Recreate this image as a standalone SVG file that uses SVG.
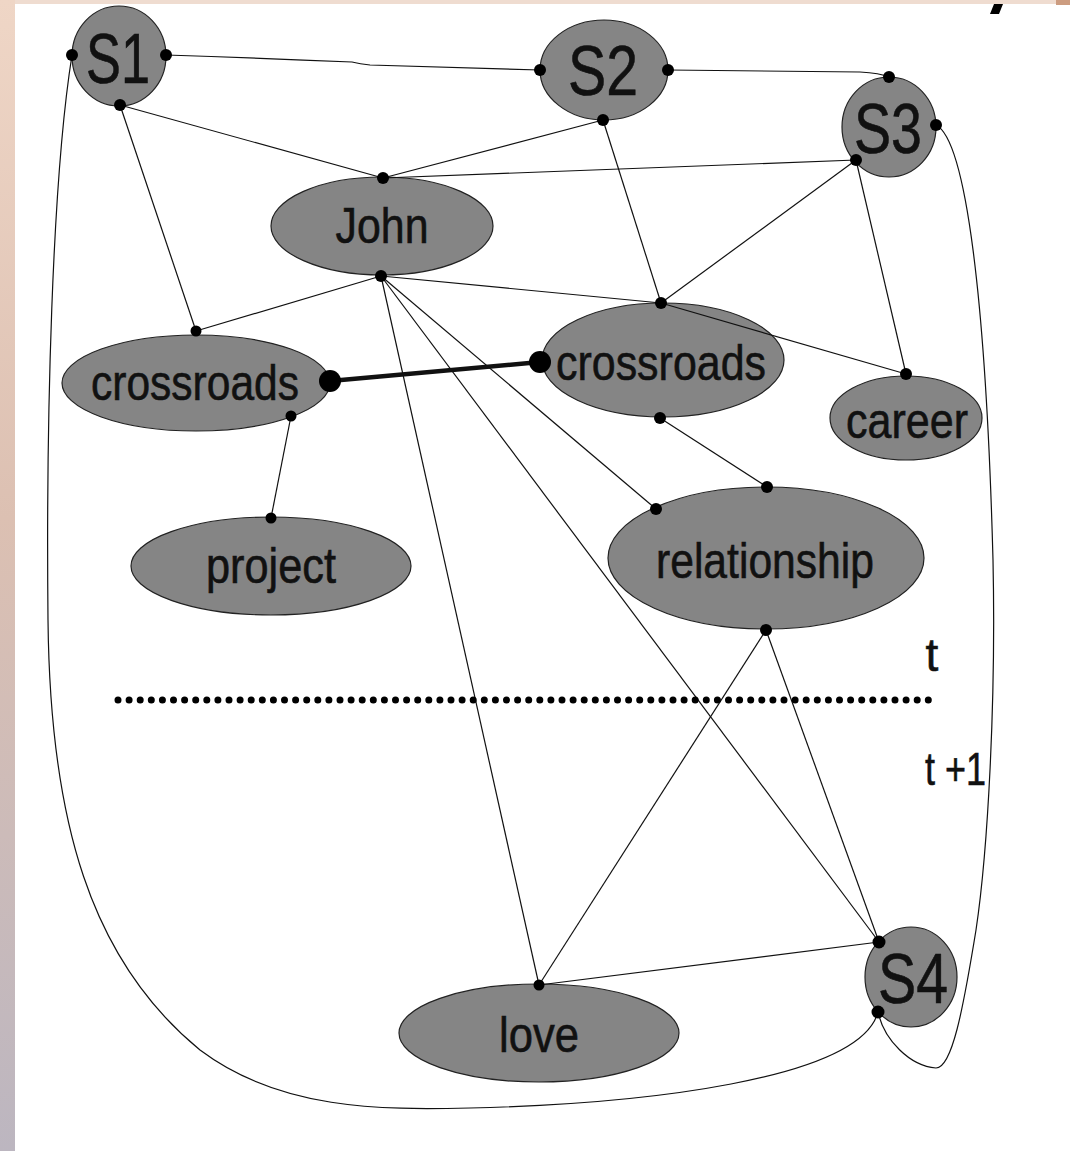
<svg xmlns="http://www.w3.org/2000/svg" width="1070" height="1151" viewBox="0 0 1070 1151">
<defs>
<linearGradient id="lg" x1="0" y1="0" x2="0" y2="1">
<stop offset="0" stop-color="#efd6c6"/>
<stop offset="0.45" stop-color="#dcc0b2"/>
<stop offset="1" stop-color="#bcb6c0"/>
</linearGradient>
<style>
.node{fill:#858585;stroke:#222;stroke-width:1.2}
.lbl{font-family:"Liberation Sans",Arial,sans-serif;fill:#111;stroke:#111;stroke-width:0.6;text-anchor:middle}
.big{font-size:70px}
.word{font-size:50px}
.edge{fill:none;stroke:#111;stroke-width:1.2}
.port{fill:#000}
</style>
</defs>
<rect width="1070" height="1151" fill="#fff"/>
<rect x="0" y="0" width="15" height="1151" fill="url(#lg)"/>
<rect x="15" y="0" width="1042" height="4" fill="#efdcd0"/>
<rect x="1056" y="0" width="14" height="5" fill="#cc9c80"/>
<polygon points="994,4 1003,4 999,14 990,14" fill="#000"/>

<g id="nodes">
<g id="S1"><ellipse class="node" cx="119" cy="56" rx="47" ry="50"/><text class="lbl big" x="118" y="83" textLength="64" lengthAdjust="spacingAndGlyphs">S1</text></g>
<g id="S2"><ellipse class="node" cx="604" cy="70" rx="64" ry="50"/><text class="lbl big" x="603" y="95" textLength="70" lengthAdjust="spacingAndGlyphs">S2</text></g>
<g id="S3"><ellipse class="node" cx="889" cy="127" rx="47" ry="50"/><text class="lbl big" x="888" y="153" textLength="68" lengthAdjust="spacingAndGlyphs">S3</text></g>
<g id="S4"><ellipse class="node" cx="911" cy="977" rx="46" ry="50"/><text class="lbl big" x="913" y="1003" textLength="70" lengthAdjust="spacingAndGlyphs">S4</text></g>
<g id="John"><ellipse class="node" cx="382" cy="226" rx="111" ry="49"/><text class="lbl word" x="382" y="243" textLength="93" lengthAdjust="spacingAndGlyphs">John</text></g>
<g id="crossroads1"><ellipse class="node" cx="196" cy="383" rx="134" ry="48"/><text class="lbl word" x="195" y="400" textLength="208" lengthAdjust="spacingAndGlyphs">crossroads</text></g>
<g id="crossroads2"><ellipse class="node" cx="663" cy="360" rx="121" ry="57"/><text class="lbl word" x="661" y="380" textLength="210" lengthAdjust="spacingAndGlyphs">crossroads</text></g>
<g id="career"><ellipse class="node" cx="906" cy="418" rx="76" ry="42"/><text class="lbl word" x="907" y="438" textLength="122" lengthAdjust="spacingAndGlyphs">career</text></g>
<g id="project"><ellipse class="node" cx="271" cy="566" rx="140" ry="49"/><text class="lbl word" x="271" y="583" textLength="130" lengthAdjust="spacingAndGlyphs">project</text></g>
<g id="relationship"><ellipse class="node" cx="766" cy="558" rx="158" ry="71"/><text class="lbl word" x="765" y="578" textLength="218" lengthAdjust="spacingAndGlyphs">relationship</text></g>
<g id="love"><ellipse class="node" cx="539" cy="1033" rx="140" ry="49"/><text class="lbl word" x="539" y="1052" textLength="80" lengthAdjust="spacingAndGlyphs">love</text></g>
</g>

<g id="connectors">
<path class="edge" d="M166,55 Q260,58 352,62 Q360,64 370,65 L540,70"/>
<path class="edge" d="M668,70 L860,72 Q880,73 889,77"/>
<path class="edge" d="M120,105 L383,178"/>
<path class="edge" d="M603,120 L383,178"/>
<path class="edge" d="M856,160 L383,178"/>
<path class="edge" d="M120,105 L196,331"/>
<path class="edge" d="M603,120 L661,303"/>
<path class="edge" d="M856,160 L661,303"/>
<path class="edge" d="M856,160 L906,374"/>
<path class="edge" d="M381,276 L196,331"/>
<path class="edge" d="M381,276 L661,303"/>
<path class="edge" d="M661,303 L906,374"/>
<path class="edge" d="M381,276 L656,509"/>
<path class="edge" d="M381,276 L539,985"/>
<path class="edge" d="M381,276 L879,942"/>
<path class="edge" d="M660,418 L767,487"/>
<path class="edge" d="M291,416 L271,518"/>
<path class="edge" d="M330,381 L540,362" style="stroke-width:4.5"/>
<path class="edge" d="M766,630 L539,985"/>
<path class="edge" d="M766,630 L879,942"/>
<path class="edge" d="M539,985 L879,942"/>
<path class="edge" d="M72,55 C52,180 46,420 48,620 C50,820 90,960 200,1050 C280,1110 380,1110 470,1108 C640,1104 860,1080 878,1012"/>
<path class="edge" d="M936,125 C966,140 986,300 993,560 C996,700 988,850 976,930 C963,1010 952,1068 936,1068 C910,1066 884,1040 878,1012"/>
<line x1="118" y1="700" x2="938" y2="700" stroke="#000" stroke-width="7" stroke-linecap="round" stroke-dasharray="0 11.1"/>
</g>

<g id="ports">
<circle class="port" cx="72" cy="55" r="6"/>
<circle class="port" cx="166" cy="55" r="6"/>
<circle class="port" cx="120" cy="105" r="6"/>
<circle class="port" cx="540" cy="70" r="6"/>
<circle class="port" cx="668" cy="70" r="6"/>
<circle class="port" cx="603" cy="120" r="6"/>
<circle class="port" cx="889" cy="77" r="6"/>
<circle class="port" cx="936" cy="125" r="6"/>
<circle class="port" cx="856" cy="160" r="6"/>
<circle class="port" cx="383" cy="178" r="6"/>
<circle class="port" cx="381" cy="276" r="6"/>
<circle class="port" cx="196" cy="331" r="5.5"/>
<circle class="port" cx="330" cy="381" r="11"/>
<circle class="port" cx="291" cy="416" r="5.5"/>
<circle class="port" cx="661" cy="303" r="6"/>
<circle class="port" cx="540" cy="362" r="11"/>
<circle class="port" cx="660" cy="418" r="6"/>
<circle class="port" cx="906" cy="374" r="6"/>
<circle class="port" cx="271" cy="518" r="5.5"/>
<circle class="port" cx="656" cy="509" r="6"/>
<circle class="port" cx="767" cy="487" r="6"/>
<circle class="port" cx="766" cy="630" r="6"/>
<circle class="port" cx="539" cy="985" r="5.5"/>
<circle class="port" cx="879" cy="942" r="6.5"/>
<circle class="port" cx="878" cy="1012" r="6.5"/>
</g>

<g id="time-labels">
<text class="lbl" style="font-size:46px" x="932" y="671">t</text>
<text class="lbl" style="font-size:46px;text-anchor:start" x="925" y="785" textLength="61" lengthAdjust="spacingAndGlyphs">t +1</text>
</g>
</svg>
